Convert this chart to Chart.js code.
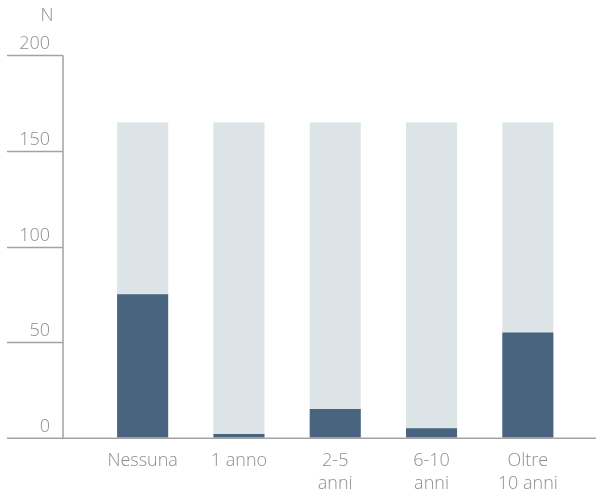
<!DOCTYPE html>
<html>
<head>
<meta charset="utf-8">
<script src="https://cdn.jsdelivr.net/npm/chart.js@4"></script>
<style>
    body { margin: 0; background: #fff; }
    #wrap { width: 596px; height: 493px; position: relative; }
</style>
</head>
<body>
<div id="wrap"><canvas id="durataChart"></canvas></div>
<script>
const categories = ["Nessuna", "1 anno", ["2-5", "anni"], ["6-10", "anni"], ["Oltre", "10 anni"]]
const totals = [165, 165, 165, 165, 165]
const values = [75, 2, 15, 5, 55]
const yTicks = [0, 50, 100, 150, 200]

const textColor = "#8e8e8e"
const lineColor = "#a3a3a3"
const fontFamily = "'Open Sans', Lato, sans-serif"

// axis lines and the "N" unit label, drawn like the original
const axisLines = {
    id: "axisLines",
    afterDraw: (chart) => {
        const ctx = chart.ctx
        const y = chart.scales.y
        const area = chart.chartArea
        const axisX = 63
        ctx.save()
        ctx.strokeStyle = lineColor
        ctx.lineWidth = 1.5
        ctx.beginPath()
        yTicks.forEach((t) => {
            if (t === 0) return
            const py = Math.round(y.getPixelForValue(t)) + 0.5
            ctx.moveTo(7, py)
            ctx.lineTo(axisX, py)
        })
        ctx.moveTo(axisX, y.getPixelForValue(200))
        ctx.lineTo(axisX, area.bottom)
        ctx.moveTo(7, area.bottom + 0.5)
        ctx.lineTo(chart.width, area.bottom + 0.5)
        ctx.stroke()

        ctx.fillStyle = textColor
        ctx.font = "300 18px " + fontFamily
        ctx.textAlign = "center"
        ctx.textBaseline = "middle"
        ctx.fillText("N", 47, 16)
        ctx.restore()
    }
}

const ctx = document.getElementById("durataChart").getContext("2d")

new Chart(ctx, {
    type: "bar",
    data: {
        labels: categories,
        datasets: [
            {
                label: "Valore",
                data: values,
                backgroundColor: "#48647f",
                grouped: false,
                order: 0
            },
            {
                label: "Totale",
                data: totals,
                backgroundColor: "#dde4e8",
                grouped: false,
                order: 1
            }
        ]
    },
    options: {
        responsive: true,
        maintainAspectRatio: false,
        animation: false,
        layout: { padding: { top: 54, right: 20, left: 0, bottom: 0 } },
        datasets: { bar: { categoryPercentage: 1, barPercentage: 0.53 } },
        plugins: {
            legend: { display: false },
            tooltip: { enabled: false }
        },
        scales: {
            x: {
                grid: { display: false, drawTicks: false },
                border: { display: false },
                afterFit: (s) => { s.height = 55 },
                ticks: {
                    color: textColor,
                    padding: 11,
                    maxRotation: 0,
                    autoSkip: false,
                    font: { family: fontFamily, size: 18, weight: 300, lineHeight: 1.3 }
                }
            },
            y: {
                min: 0,
                max: 200,
                afterFit: (s) => { s.width = 94.5 },
                afterBuildTicks: (s) => { s.ticks = yTicks.map(v => ({ value: v })) },
                grid: { display: false, drawTicks: false },
                border: { display: false },
                ticks: {
                    color: textColor,
                    padding: 44.5,
                    labelOffset: -11,
                    font: { family: fontFamily, size: 18, weight: 300 }
                }
            }
        }
    },
    plugins: [axisLines]
})
</script>
</body>
</html>
